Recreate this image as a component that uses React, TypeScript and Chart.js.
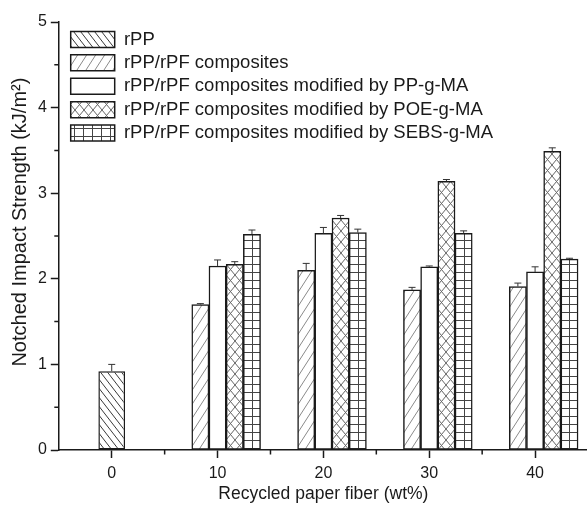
import React, { useEffect, useRef } from 'react';
import { Chart, registerables } from 'chart.js';

Chart.register(...registerables);

// ---------- data ----------
const categories = ['0', '10', '20', '30', '40'];
const seriesLabels = [
  'rPP',
  'rPP/rPF composites',
  'rPP/rPF composites modified by PP-g-MA',
  'rPP/rPF composites modified by POE-g-MA',
  'rPP/rPF composites modified by SEBS-g-MA',
];
const rPP = [0.92, null, null, null, null];
const rPPErr = [0.08, null, null, null, null];
const composites = [null, 1.7, 2.1, 1.87, 1.91];
const compositesErr = [null, 0.01, 0.08, 0.03, 0.04];
const ppgma = [null, 2.15, 2.53, 2.14, 2.08];
const ppgmaErr = [null, 0.07, 0.07, 0.01, 0.06];
const poegma = [null, 2.17, 2.71, 3.14, 3.49];
const poegmaErr = [null, 0.03, 0.03, 0.02, 0.04];
const sebsgma = [null, 2.52, 2.54, 2.53, 2.23];
const sebsgmaErr = [null, 0.05, 0.04, 0.03, 0.01];
const emptySlot = [null, null, null, null, null];
const yMin = 0;
const yMax = 5;
const yMinorTicks = [0.5, 1.5, 2.5, 3.5, 4.5];
const xTitle = 'Recycled paper fiber (wt%)';
const yTitle = '     Notched Impact Strength (kJ/m\u00B2)';

// ---------- style ----------
const FONT = "'Liberation Sans', Arial, Helvetica, sans-serif";
const INK = '#1a1a1a';
const BAR_W = 17.2;
const SLOTS = 5;

type Kind = 'back' | 'fwd' | 'none' | 'cross' | 'grid';

function makePattern(kind: Kind, ox: number, oy: number): CanvasPattern | string {
  if (kind === 'none') return '#ffffff';
  const c = document.createElement('canvas');
  let w = 8, h = 8, color = '#444';
  if (kind === 'back') { w = 7; h = 9; color = '#3a3a3a'; }
  if (kind === 'fwd') { w = 9; h = 14; color = '#8a8a8a'; }
  if (kind === 'cross') { w = 9; h = 11; color = '#666'; }
  if (kind === 'grid') { w = 9; h = 8; color = '#444'; }
  c.width = w; c.height = h;
  const g = c.getContext('2d')!;
  g.fillStyle = '#fff';
  g.fillRect(0, 0, w, h);
  g.strokeStyle = color;
  g.fillStyle = color;
  g.lineWidth = 1;
  const back = () => {
    for (let n = -1; n <= 1; n++) {
      g.beginPath();
      g.moveTo(n * w, 0);
      g.lineTo(n * w + w, h);
      g.stroke();
    }
  };
  const fwd = () => {
    for (let n = 0; n <= 2; n++) {
      g.beginPath();
      g.moveTo(n * w, 0);
      g.lineTo(n * w - w, h);
      g.stroke();
    }
  };
  if (kind === 'back') back();
  if (kind === 'fwd') fwd();
  if (kind === 'cross') { back(); fwd(); }
  if (kind === 'grid') {
    g.fillRect(0, 0, 1, h);
    g.fillRect(0, 0, w, 1);
  }
  const p = g.createPattern(c, 'repeat')!;
  if ((p as any).setTransform) p.setTransform(new DOMMatrix().translate(ox, oy));
  return p;
}

function scriptedFill(kind: Kind, slot: number) {
  return (ctx: any) => {
    const chart = ctx.chart;
    const xs = chart.scales && chart.scales.x;
    if (ctx.type !== 'data' || !xs) return makePattern(kind, 0, 0);
    const center = xs.getPixelForValue(ctx.dataIndex) + (slot - (SLOTS - 1) / 2) * BAR_W;
    return makePattern(kind, Math.round(center), 0);
  };
}

const errorBarPlugin = {
  id: 'errorBars',
  afterDatasetsDraw(chart: any) {
    const { ctx } = chart;
    const ys = chart.scales.y;
    chart.data.datasets.forEach((ds: any, di: number) => {
      const errs = ds.errors;
      if (!errs) return;
      const meta = chart.getDatasetMeta(di);
      meta.data.forEach((bar: any, i: number) => {
        const v = ds.data[i];
        const e = errs[i];
        if (v == null || e == null) return;
        const base = ys.getPixelForValue(v);
        const top = ys.getPixelForValue(v + e);
        ctx.save();
        ctx.strokeStyle = '#333';
        ctx.lineWidth = 1;
        ctx.beginPath();
        ctx.moveTo(bar.x, base);
        ctx.lineTo(bar.x, top);
        ctx.moveTo(bar.x - 3.5, top);
        ctx.lineTo(bar.x + 3.5, top);
        ctx.stroke();
        ctx.restore();
      });
    });
  },
};

const minorTickPlugin = {
  id: 'minorTicks',
  afterDraw(chart: any) {
    const { ctx } = chart;
    const xs = chart.scales.x;
    const ys = chart.scales.y;
    ctx.save();
    ctx.strokeStyle = INK;
    ctx.lineWidth = 1.5;
    ctx.beginPath();
    yMinorTicks.forEach((v) => {
      const py = ys.getPixelForValue(v);
      ctx.moveTo(ys.right - 4.5, py);
      ctx.lineTo(ys.right, py);
    });
    for (let i = 0; i < categories.length - 1; i++) {
      const px = (xs.getPixelForValue(i) + xs.getPixelForValue(i + 1)) / 2;
      ctx.moveTo(px, xs.top);
      ctx.lineTo(px, xs.top + 4.5);
    }
    ctx.stroke();
    ctx.restore();
  },
};

const legendPlacePlugin = {
  id: 'legendPlace',
  afterLayout(chart: any) {
    const lg = chart.legend;
    const ca = chart.chartArea;
    if (!lg || !ca) return;
    lg.left = ca.left + 7;
    lg.right = lg.left + lg.width;
    lg.top = ca.top + 3.3;
    lg.bottom = ca.bottom;
  },
};

export default function App() {
  const ref = useRef<HTMLCanvasElement>(null);

  useEffect(() => {
    if (!ref.current) return;
    const common = {
      borderColor: INK,
      borderWidth: 1.5,
      borderSkipped: false as const,
    };
    const chart = new Chart(ref.current, {
      type: 'bar',
      data: {
        labels: categories,
        datasets: [
          {
            label: seriesLabels[0],
            data: rPP,
            errors: rPPErr,
            grouped: false,
            maxBarThickness: 26.7,
            backgroundColor: makePattern('back', 0, 0),
            ...common,
          } as any,
          {
            label: '',
            data: emptySlot,
            barThickness: BAR_W,
            backgroundColor: 'rgba(0,0,0,0)',
            borderWidth: 0,
          } as any,
          {
            label: seriesLabels[1],
            data: composites,
            errors: compositesErr,
            barThickness: BAR_W,
            backgroundColor: scriptedFill('fwd', 1),
            ...common,
          } as any,
          {
            label: seriesLabels[2],
            data: ppgma,
            errors: ppgmaErr,
            barThickness: BAR_W,
            backgroundColor: '#ffffff',
            ...common,
          } as any,
          {
            label: seriesLabels[3],
            data: poegma,
            errors: poegmaErr,
            barThickness: BAR_W,
            backgroundColor: scriptedFill('cross', 3),
            ...common,
          } as any,
          {
            label: seriesLabels[4],
            data: sebsgma,
            errors: sebsgmaErr,
            barThickness: BAR_W,
            backgroundColor: scriptedFill('grid', 4),
            ...common,
          } as any,
        ],
      },
      options: {
        animation: false,
        responsive: false,
        maintainAspectRatio: false,
        layout: { padding: { top: 22, left: 0, right: 0, bottom: 0 } },
        plugins: {
          tooltip: { enabled: false },
          title: { display: false },
          legend: {
            display: true,
            position: 'chartArea' as any,
            align: 'start',
            labels: {
              boxWidth: 44,
              boxHeight: 16,
              padding: 4.9,
              color: INK,
              font: { family: FONT, size: 18.5 },
              filter: (item: any) => item.text !== '',
            },
          },
        },
        scales: {
          x: {
            type: 'category',
            offset: true,
            grid: {
              offset: false,
              drawOnChartArea: false,
              drawTicks: true,
              tickLength: 8,
              tickColor: INK,
              tickWidth: 1.5,
              color: INK,
            },
            border: { display: true, color: INK, width: 1.5 },
            ticks: {
              color: INK,
              font: { family: FONT, size: 16 },
              padding: 6,
              maxRotation: 0,
            },
            title: {
              display: true,
              text: xTitle,
              color: INK,
              font: { family: FONT, size: 17.5 },
              padding: { top: 0, bottom: 0 },
            },
            afterFit: (s: any) => {
              s.height = 55;
              s.paddingLeft = 0;
              s.paddingRight = 0;
            },
          },
          y: {
            type: 'linear',
            min: yMin,
            max: yMax,
            grid: {
              drawOnChartArea: false,
              drawTicks: true,
              tickLength: 8,
              tickColor: INK,
              tickWidth: 1.5,
              color: INK,
            },
            border: { display: true, color: INK, width: 1.5 },
            ticks: {
              stepSize: 1,
              color: INK,
              font: { family: FONT, size: 16 },
              padding: 4,
            },
            title: {
              display: true,
              text: yTitle,
              color: INK,
              font: { family: FONT, size: 20 },
              padding: { top: 8.8, bottom: 0 },
            },
            afterFit: (s: any) => {
              s.width = 58.8;
              s.paddingTop = 0;
              s.paddingBottom = 0;
            },
          },
        },
      },
      plugins: [errorBarPlugin, minorTickPlugin, legendPlacePlugin],
    } as any);
    return () => chart.destroy();
  }, []);

  return (
    <div
      style={{
        position: 'fixed',
        left: 0,
        top: 0,
        width: 587,
        height: 505,
        overflow: 'hidden',
        background: '#fff',
      }}
    >
      <canvas ref={ref} width={588} height={505} style={{ display: 'block', width: 588, height: 505 }} />
    </div>
  );
}
